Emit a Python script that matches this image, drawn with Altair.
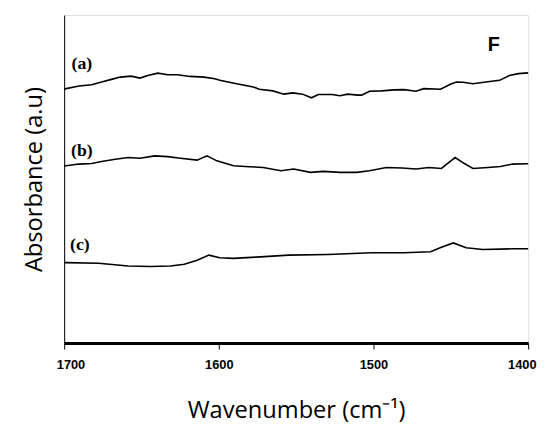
import altair as alt
import pandas as pd

# Wavenumbers (cm^-1) and absorbance (arbitrary units)
wn_a = [1700, 1698.7, 1690.4, 1682.2, 1675.8, 1669.4, 1663.7, 1656.7, 1651.0, 1645.9,
        1639.5, 1633.1, 1626.8, 1618.5, 1609.6, 1602.6, 1599.4, 1588.5, 1577.7, 1573.9,
        1565.0, 1558.0, 1552.2, 1545.9, 1540.1, 1535.7, 1526.8, 1521.7, 1516.6, 1510.2,
        1507.7, 1502.6, 1494.9, 1486.6, 1480.3, 1472.6, 1467.5, 1456.7, 1450.3, 1446.5,
        1442.1, 1435.7, 1427.4, 1418.5, 1412.1, 1406.4, 1400]
abs_a = [257.5, 258.3, 261, 262.3, 265, 267.7, 270, 271, 269, 271.7,
         274, 272.3, 272.3, 270.7, 270, 268.3, 266.7, 263.3, 260, 257.7,
         256, 252.7, 254, 252.7, 249, 252.3, 252.3, 251, 252.7, 251.7,
         251.7, 255.7, 256, 257, 257.3, 255.7, 258.3, 257.7, 262.7, 265,
         264.7, 263.3, 265, 266.7, 271.7, 273.5, 274.3]

wn_b = [1700, 1698.7, 1690.4, 1682.2, 1675.8, 1666.9, 1658.6, 1651.0, 1641.4, 1633.1,
        1624.8, 1614.0, 1610.8, 1607.6, 1604.4, 1601.3, 1590.5, 1580.3, 1571.3, 1559.9,
        1551.6, 1540.8, 1532.5, 1521.7, 1510.8, 1502.6, 1491.7, 1481.5, 1472.6, 1464.3,
        1456.1, 1451.6, 1447.2, 1441.5, 1435.7, 1426.1, 1417.9, 1410.2, 1400]
abs_b = [180, 180, 181.7, 182.3, 184.3, 186.7, 188.3, 187.7, 190, 189.3,
         187.7, 185.7, 188, 190, 187.5, 185, 180, 179, 178.3, 175,
         176.7, 173.3, 174.3, 173.3, 173.3, 175, 178.3, 177.7, 176.7, 178.3,
         177.3, 183, 188.3, 182.5, 177.3, 178.3, 179.3, 181.7, 182]

wn_c = [1700, 1698.7, 1677.7, 1658.6, 1644.0, 1631.2, 1622.3, 1614.0, 1606.4, 1599.4,
        1590.5, 1575.8, 1554.8, 1529.3, 1501.3, 1480.3, 1463.1, 1456.1, 1448.4, 1440.1,
        1429.3, 1410.2, 1400]
abs_c = [81.7, 81.7, 81, 78.3, 77.7, 78.3, 80, 84, 89.3, 86.7,
         86, 87.3, 89.3, 90, 91.7, 91.7, 92.7, 97.3, 101.7, 96.7,
         95, 95.7, 95.7]

series_labels = ["(a)", "(b)", "(c)"]
x_ticks = [1700, 1600, 1500, 1400]

rows = []
for name, wns, vals in zip(series_labels, [wn_a, wn_b, wn_c], [abs_a, abs_b, abs_c]):
    for w, v in zip(wns, vals):
        rows.append({"series": name, "wavenumber": w, "absorbance": v})
df = pd.DataFrame(rows)

x_scale = alt.Scale(domain=[1700, 1400], nice=False, zero=False)
y_scale = alt.Scale(domain=[0, 333], nice=False, zero=False)

lines = alt.Chart(df).mark_line(color="black", strokeWidth=1.6).encode(
    x=alt.X("wavenumber:Q", scale=x_scale,
            axis=alt.Axis(values=x_ticks, format="d", title="Wavenumber (cm⁻¹)",
                          domainColor="black", domainWidth=3,
                          tickColor="black", tickSize=6, tickWidth=1,
                          labelFont="Liberation Sans", labelFontSize=13,
                          labelFontWeight="bold", labelColor="black",
                          labelPadding=10, labelFlush=True, labelFlushOffset=8,
                          grid=False,
                          titleFont="Open Sans", titleFontSize=24,
                          titleFontWeight="normal", titleColor="black",
                          titlePadding=28)),
    y=alt.Y("absorbance:Q", scale=y_scale,
            axis=alt.Axis(labels=False, ticks=False, grid=False,
                          domainColor="black", domainWidth=1,
                          title="Absorbance (a.u)",
                          titleFont="Open Sans", titleFontSize=24,
                          titleFontWeight="normal", titleColor="black",
                          titlePadding=18)),
    detail="series:N",
)

lab_df = pd.DataFrame({"label": series_labels})
label_x = [18, 18, 16]
label_y = [50, 138, 233]

label_layers = []
for i, name in enumerate(series_labels):
    label_layers.append(
        alt.Chart(lab_df[lab_df["label"] == name]).mark_text(
            font="Liberation Serif", fontSize=18, fontWeight="bold", color="black"
        ).encode(x=alt.value(label_x[i]), y=alt.value(label_y[i]), text="label:N")
    )

panel_df = pd.DataFrame({"panel": ["F"]})
panel = alt.Chart(panel_df).mark_text(
    font="Liberation Sans", fontSize=20, fontWeight="bold", color="black"
).encode(x=alt.value(436), y=alt.value(30), text="panel:N")

chart = alt.layer(lines, *label_layers, panel).properties(
    width=471, height=333,
    autosize=alt.AutoSizeParams(type="none"),
    padding={"left": 57, "top": 4, "right": 11, "bottom": 80},
).configure_view(stroke="#444", strokeWidth=1).configure(background="white")

chart.save("out.html", embed_options={"renderer": "svg", "actions": False})
